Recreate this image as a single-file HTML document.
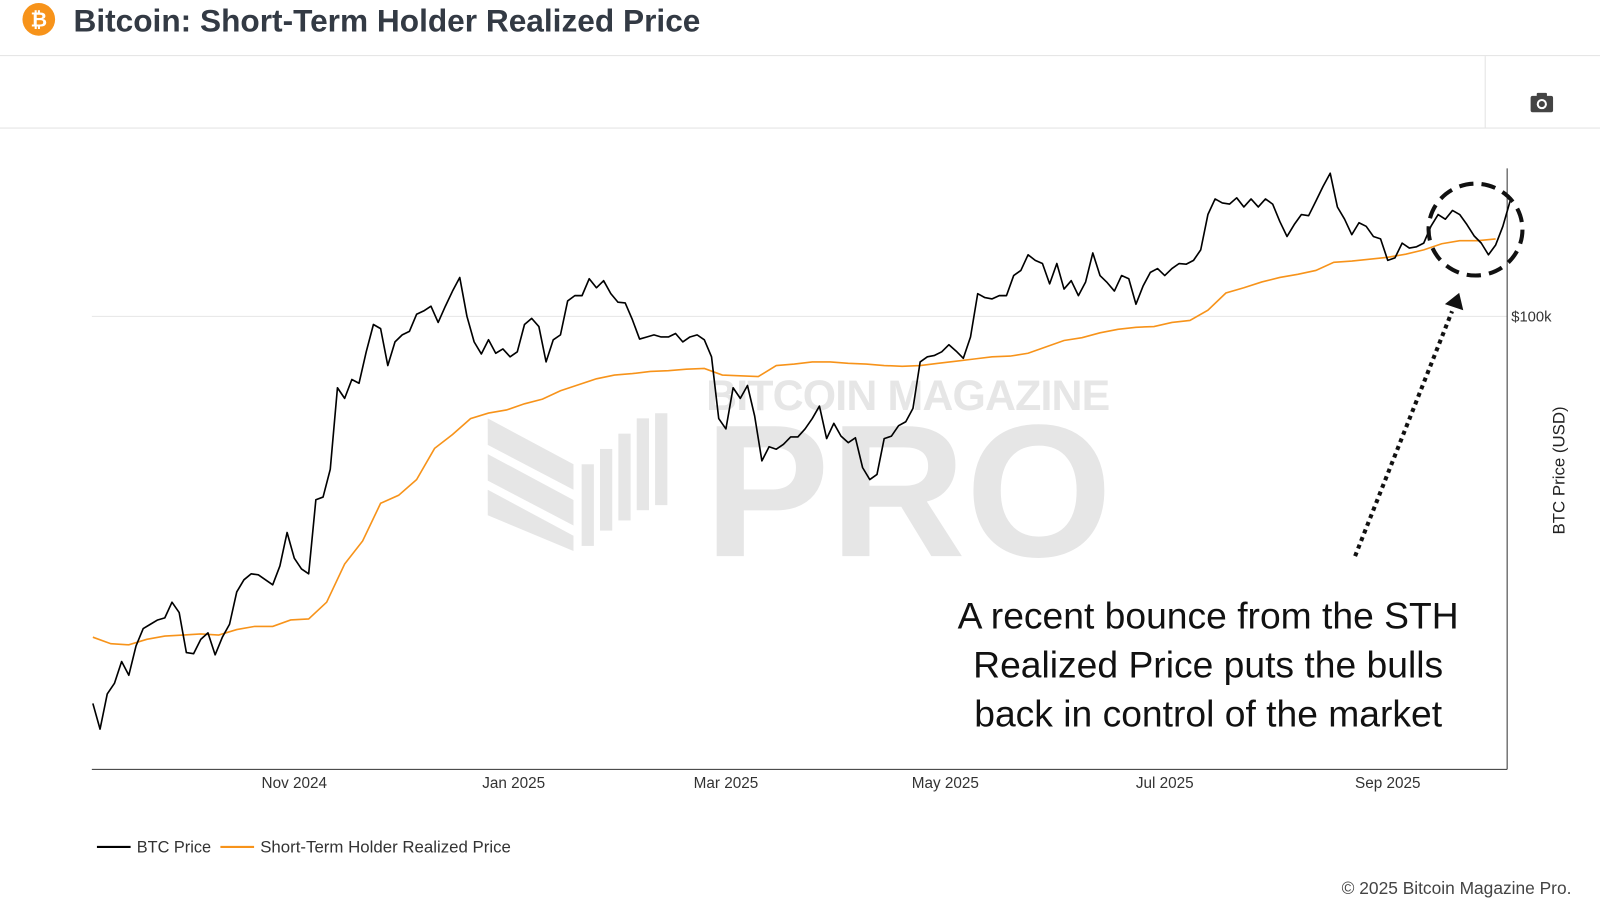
<!DOCTYPE html>
<html><head><meta charset="utf-8">
<style>
body{margin:0;width:1600px;height:899px;background:#fff;font-family:"Liberation Sans",sans-serif;overflow:hidden;position:relative}
#root{position:absolute;left:0;top:0;width:1568px;height:881px;transform:scale(1.020408);transform-origin:0 0}
.abs{position:absolute}
</style></head><body>
<div id="root">
<div class="abs" style="left:0;top:0;width:1568px;height:54px;border-bottom:1px solid #e3e3e3">
  <svg class="abs" style="left:21px;top:2px" width="34" height="34"><circle cx="17" cy="17" r="16" fill="#f7931a"/><text x="17" y="24" text-anchor="middle" font-size="20" font-weight="bold" fill="#fff" font-family="Liberation Sans">₿</text></svg>
  <div class="abs" style="left:72px;top:3px;font-size:31px;font-weight:bold;color:#333a44;white-space:nowrap">Bitcoin: Short-Term Holder Realized Price</div>
</div>
<div class="abs" style="left:0;top:55px;width:1568px;height:70px;border-bottom:1px solid #e3e3e3"></div>
<div class="abs" style="left:1455px;top:55px;width:1px;height:70px;background:#e3e3e3"></div>
<svg class="abs" style="left:1499px;top:90px" width="25" height="22"><rect x="1" y="4" width="22" height="16" rx="2" fill="#444"/><rect x="7" y="1" width="10" height="5" rx="1" fill="#444"/><circle cx="12" cy="12" r="5" fill="#fff"/><circle cx="12" cy="12" r="3" fill="#444"/></svg>

<svg id="chart" class="abs" style="left:0;top:0" width="1568" height="881"></svg>

<div class="abs" style="left:884px;top:580px;width:600px;text-align:center;font-size:36.5px;line-height:48px;color:#111;white-space:nowrap">A recent bounce from the STH<br>Realized Price puts the bulls<br>back in control of the market</div>
<div class="abs" style="right:28px;top:861px;font-size:17px;color:#444;white-space:nowrap">© 2025 Bitcoin Magazine Pro.</div>
</div>

<script>
const startDate = '2024-09-06';
const priceStepDays = 2;
const btcPrice = [56.5,54.4,57.3,58.2,60.1,58.9,61.5,63.1,63.5,63.9,64.1,65.6,64.6,60.9,60.8,62.1,62.7,60.7,62.3,63.5,66.6,67.8,68.4,68.3,67.8,67.3,69.2,72.7,70.0,68.9,68.4,76.3,76.6,79.8,90.0,88.6,91.1,90.6,94.9,98.8,98.2,93.0,96.3,97.3,97.8,100.3,100.8,101.5,99.1,101.5,103.8,105.9,100,96.3,94.6,96.6,94.7,95.3,94.2,94.9,98.8,99.7,98.5,93.5,96.6,97.3,102.3,103.1,103.1,105.7,104.3,105.4,103.4,102.1,102.0,99.5,96.7,97.0,97.3,97.0,97.0,97.5,96.3,97.0,97.3,96.6,94.2,86.0,84.7,90.0,88.6,90.3,86.3,80.8,82.5,82.2,82.8,83.7,83.7,84.7,86.0,87.6,83.5,85.4,83.8,83.0,83.6,80.0,78.6,79.2,83.5,83.8,85.1,85.6,87.3,93.5,94.2,94.4,94.9,95.9,95.0,94.0,97.0,103.4,102.8,102.6,103.1,103.1,106.2,107.0,109.5,108.6,108.1,104.9,108.1,104.1,105.4,103.1,105.2,109.8,106.2,105.1,103.8,106.2,105.7,101.8,104.6,106.7,107.3,106.2,107.3,108.1,108.0,108.6,110.3,116.2,118.9,118.2,118.0,119.1,117.5,118.9,117.5,118.9,118.0,115.0,112.5,114.5,116.2,116.0,118.5,121.1,123.5,117.5,115.4,112.8,114.8,114.2,112.5,112.1,108.6,109.0,111.4,110.6,110.8,111.4,114.2,116.2,115.4,116.9,116.2,114.5,112.6,111.4,109.5,111.1,114.2,118.5];
const sthStepDays = 5;
const sthPrice = [62.3,61.7,61.6,62.1,62.4,62.5,62.6,62.5,63.0,63.3,63.3,63.9,64.0,65.6,69.4,71.8,75.9,76.8,78.6,82.3,84.0,86.0,86.7,87.1,87.9,88.5,89.6,90.4,91.2,91.7,91.9,92.2,92.3,92.5,92.6,91.7,91.6,91.5,93.0,93.2,93.5,93.5,93.3,93.2,93.0,92.9,93.0,93.3,93.6,93.9,94.2,94.3,94.7,95.6,96.5,96.9,97.6,98.1,98.4,98.5,99.1,99.4,100.9,103.5,104.3,105.2,105.9,106.4,107.0,108.3,108.5,108.8,109.1,109.6,110.3,111.3,111.8,111.8,112.1];
const xTickDates = ['2024-11-01','2025-01-01','2025-03-01','2025-05-01','2025-07-01','2025-09-01'];
const xTickLabels = ['Nov 2024','Jan 2025','Mar 2025','May 2025','Jul 2025','Sep 2025'];
const yTickValues = [100];
const yTickLabels = ['$100k'];

const NS='http://www.w3.org/2000/svg';
const svg=document.getElementById('chart');
const L=90,R=1477,T=165,B=754;
const t0=new Date(startDate+'T00:00:00Z').getTime();
function xDay(d){return 91+d*3.525;}
function xDate(s){return xDay((new Date(s+'T00:00:00Z').getTime()-t0)/864e5);}
function yP(p){return 310-1530*Math.log10(p/100);}
function mk(tag,attrs,parent){const e=document.createElementNS(NS,tag);for(const k in attrs)e.setAttribute(k,attrs[k]);(parent||svg).appendChild(e);return e;}

// watermark
const wm=mk('g',{fill:'#e6e6e6'});


mk('polygon',{points:'478,410 562,455 562,480 478,436'},wm);
mk('polygon',{points:'478,445 562,490 562,515 478,471'},wm);
mk('polygon',{points:'478,480 562,525 562,540 478,505'},wm);
mk('rect',{x:570,y:455,width:12,height:80},wm);
mk('rect',{x:588,y:440,width:12,height:80},wm);
mk('rect',{x:606,y:425,width:12,height:85},wm);
mk('rect',{x:624,y:410,width:12,height:90},wm);
mk('rect',{x:642,y:405,width:12,height:90},wm);
const wt1=mk('text',{x:692,y:402,'font-size':42,'font-weight':'bold','font-family':'Liberation Sans',textLength:396},wm);wt1.textContent='BITCOIN MAGAZINE';
const wt2=mk('text',{x:690,y:545,'font-size':185,'font-weight':'bold','font-family':'Liberation Sans',textLength:400,lengthAdjust:'spacingAndGlyphs'},wm);wt2.textContent='PRO';

// grid + axes
yTickValues.forEach((v,i)=>{
  const y=yP(v);
  const g=mk('line',{x1:L,x2:R,y1:y,y2:y,stroke:'#e6e6e6','stroke-width':1});
  
  
  const t=mk('text',{x:R+4,y:y+5,'font-size':14.5,fill:'#333','font-family':'Liberation Sans'});
  
  
  t.textContent=yTickLabels[i];
});
const ax=mk('line',{x1:L,x2:R,y1:B,y2:B,stroke:'#333','stroke-width':1});


const ay=mk('line',{x1:R,x2:R,y1:T,y2:B,stroke:'#333','stroke-width':1});


xTickDates.forEach((d,i)=>{
  const t=mk('text',{x:xDate(d),y:772,'text-anchor':'middle','font-size':15,fill:'#333','font-family':'Liberation Sans'});
  
  
  t.textContent=xTickLabels[i];
});
const yt=mk('text',{x:0,y:0,transform:'translate(1533,461) rotate(-90)','text-anchor':'middle','font-size':16.5,fill:'#222','font-family':'Liberation Sans'});


yt.textContent='BTC Price (USD)';

// series
const sp=mk('polyline',{points:sthPrice.map((v,i)=>xDay(i*sthStepDays)+','+yP(v)).join(' '),fill:'none',stroke:'#f7931a','stroke-width':1.6});


const bp=mk('polyline',{points:btcPrice.map((v,i)=>xDay(i*priceStepDays)+','+yP(v)).join(' '),fill:'none',stroke:'#000','stroke-width':1.6,'stroke-linejoin':'round'});



// annotations
const circ=mk('ellipse',{cx:1446,cy:225,rx:46,ry:45,fill:'none',stroke:'#111','stroke-width':4,'stroke-dasharray':'14 8'});


const arr=mk('line',{x1:1328,y1:545,x2:1423,y2:305,stroke:'#111','stroke-width':4,'stroke-dasharray':'4 4'});


const ah=mk('polygon',{points:'1430,287 1434,304 1416,298',fill:'#111'});



// legend
const lg=mk('g',{});


mk('line',{x1:95,x2:128,y1:830,y2:830,stroke:'#000','stroke-width':2},lg);
const lt1=mk('text',{x:134,y:835.5,'font-size':16,fill:'#333','font-family':'Liberation Sans'},lg);


lt1.textContent='BTC Price';
mk('line',{x1:216,x2:249,y1:830,y2:830,stroke:'#f7931a','stroke-width':2},lg);
const lt2=mk('text',{x:255,y:835.5,'font-size':16.5,fill:'#333','font-family':'Liberation Sans'},lg);


lt2.textContent='Short-Term Holder Realized Price';
</script>
</body></html>
